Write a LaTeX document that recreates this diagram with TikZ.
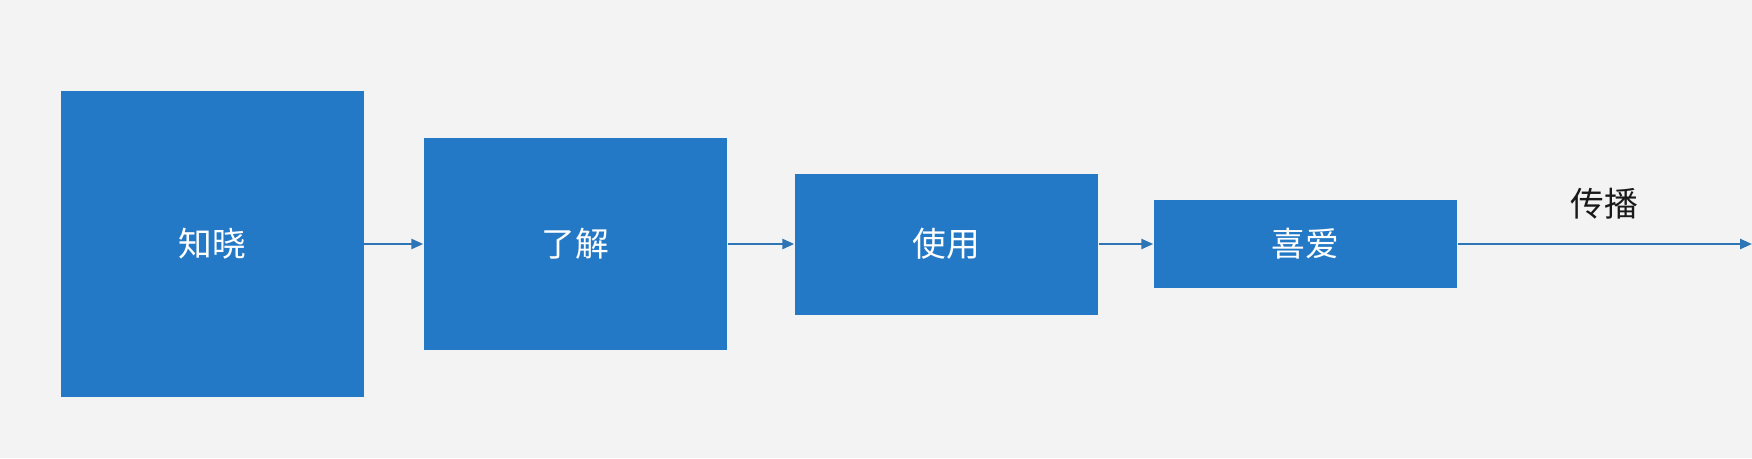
\documentclass[tikz,border=0pt]{standalone}
\usepackage{fontspec}
\newfontfamily\cjk{Noto Sans CJK SC}
\usepackage{tikz}
\usetikzlibrary{arrows.meta}
\definecolor{stageblue}{RGB}{36,121,198}
\definecolor{flowblue}{RGB}{46,117,182}
\definecolor{bggray}{RGB}{243,243,243}

\begin{document}
\begin{tikzpicture}[
  stage/.style={fill=stageblue, inner sep=0pt, minimum width=3.03cm,
    text=white, font=\cjk\fontsize{9.6}{11}\selectfont},
  flow/.style={draw=flowblue, line width=0.7pt,
    -{Triangle[length=0.12cm,width=0.1cm]}},
  label/.style={font=\cjk\fontsize{9.6}{11}\selectfont, text=black!90}]
  \fill[bggray] (0,0) rectangle (17.52,4.58);
  \useasboundingbox (0,0) rectangle (17.52,4.58);
  \node[stage, minimum height=3.06cm] (zhixiao) at (2.12,2.14) {知晓};
  \node[stage, minimum height=2.12cm] (liaojie) at (5.755,2.14) {了解};
  \node[stage, minimum height=1.41cm] (shiyong) at (9.465,2.14) {使用};
  \node[stage, minimum height=0.88cm] (xiai) at (13.055,2.14) {喜爱};
  \coordinate (end) at (17.52,2.14);
  \node[label] (chuanbo) at (16.04,2.54) {传播};
  \draw[flow] (zhixiao) -- (liaojie);
  \draw[flow] (liaojie) -- (shiyong);
  \draw[flow] (shiyong) -- (xiai);
  \draw[flow] (xiai) -- (end);
\end{tikzpicture}
\end{document}
